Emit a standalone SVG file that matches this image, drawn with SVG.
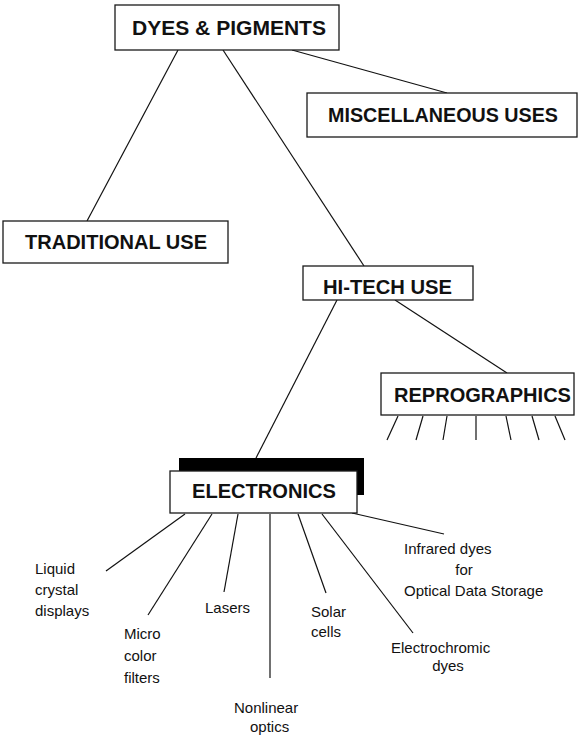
<svg xmlns="http://www.w3.org/2000/svg" width="580" height="737" viewBox="0 0 580 737">
<style>
.box{fill:#fff;stroke:#1a1a1a;stroke-width:1.3}
.ln{stroke:#111;stroke-width:1.2;fill:none}
.t{font-family:"Liberation Sans",Arial,sans-serif;font-weight:bold;font-size:20px;fill:#111}
.s{font-family:"Liberation Sans",Arial,sans-serif;font-size:15px;fill:#111}
</style>
<rect width="580" height="737" fill="#fff"/>
<g id="connectors">
<line class="ln" x1="178" y1="50" x2="87" y2="221"/>
<line class="ln" x1="223" y1="50" x2="364" y2="266"/>
<line class="ln" x1="292" y1="50" x2="447" y2="93"/>
<line class="ln" x1="337" y1="300" x2="256" y2="458"/>
<line class="ln" x1="395" y1="300" x2="507" y2="373"/>
<line class="ln" x1="398" y1="416" x2="387" y2="440"/>
<line class="ln" x1="423" y1="416" x2="416" y2="440"/>
<line class="ln" x1="447" y1="416" x2="443" y2="440"/>
<line class="ln" x1="476" y1="416" x2="476" y2="440"/>
<line class="ln" x1="506" y1="416" x2="511" y2="440"/>
<line class="ln" x1="532" y1="416" x2="539" y2="440"/>
<line class="ln" x1="555" y1="416" x2="565" y2="440"/>
<line class="ln" x1="185" y1="514" x2="106" y2="571"/>
<line class="ln" x1="212" y1="514" x2="148" y2="615"/>
<line class="ln" x1="238" y1="514" x2="224" y2="592"/>
<line class="ln" x1="270" y1="514" x2="270" y2="678"/>
<line class="ln" x1="298" y1="514" x2="326" y2="593"/>
<line class="ln" x1="322" y1="514" x2="413" y2="633"/>
<line class="ln" x1="352" y1="513" x2="444" y2="534"/>
</g>
<g id="dyes">
<rect class="box" x="115" y="5" width="224" height="45"/>
<text class="t" x="132" y="35" textLength="194" lengthAdjust="spacingAndGlyphs">DYES &amp; PIGMENTS</text>
</g>
<g id="misc">
<rect class="box" x="307" y="93" width="270" height="44"/>
<text class="t" x="328" y="122" textLength="230" lengthAdjust="spacingAndGlyphs">MISCELLANEOUS USES</text>
</g>
<g id="traditional">
<rect class="box" x="3" y="221" width="225" height="42"/>
<text class="t" x="25" y="249" textLength="182" lengthAdjust="spacingAndGlyphs">TRADITIONAL USE</text>
</g>
<g id="hitech">
<rect class="box" x="303" y="266" width="170" height="34"/>
<text class="t" x="323" y="294" textLength="129" lengthAdjust="spacingAndGlyphs">HI-TECH USE</text>
</g>
<g id="reprographics">
<rect class="box" x="381" y="373" width="193" height="42"/>
<text class="t" x="394" y="402" textLength="177" lengthAdjust="spacingAndGlyphs">REPROGRAPHICS</text>
</g>
<g id="electronics">
<rect x="179" y="458" width="185" height="37" fill="#000"/>
<rect class="box" x="170" y="471" width="187" height="42"/>
<text class="t" x="192" y="498" textLength="144" lengthAdjust="spacingAndGlyphs">ELECTRONICS</text>
</g>
<g id="lcd">
<text class="s" x="35" y="574">Liquid</text>
<text class="s" x="35" y="595">crystal</text>
<text class="s" x="35" y="616">displays</text>
</g>
<g id="micro">
<text class="s" x="124" y="639">Micro</text>
<text class="s" x="124" y="661">color</text>
<text class="s" x="124" y="683">filters</text>
</g>
<g id="lasers">
<text class="s" x="205" y="613">Lasers</text>
</g>
<g id="nonlinear">
<text class="s" x="234" y="713">Nonlinear</text>
<text class="s" x="250" y="732">optics</text>
</g>
<g id="solar">
<text class="s" x="311" y="617">Solar</text>
<text class="s" x="311" y="637">cells</text>
</g>
<g id="electrochromic">
<text class="s" x="391" y="653">Electrochromic</text>
<text class="s" x="448" y="671" text-anchor="middle">dyes</text>
</g>
<g id="infrared">
<text class="s" x="404" y="554">Infrared dyes</text>
<text class="s" x="464" y="575" text-anchor="middle">for</text>
<text class="s" x="404" y="596">Optical Data Storage</text>
</g>
</svg>
